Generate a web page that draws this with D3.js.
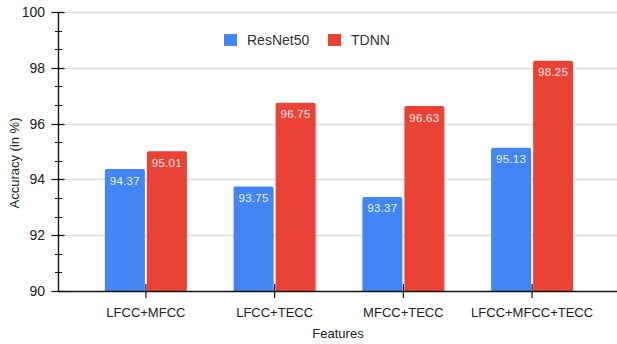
<!DOCTYPE html>
<html>
<head>
<meta charset="utf-8">
<script src="https://cdn.jsdelivr.net/npm/d3@7/dist/d3.min.js"></script>
<style>
  html, body { margin: 0; padding: 0; background: #fff; }
  svg { display: block; font-family: "Liberation Sans", Arial, sans-serif; }
</style>
</head>
<body>
<svg id="chart" width="617" height="344"></svg>
<script>
// Accuracy per feature combination, two model families
const categories = ["LFCC+MFCC", "LFCC+TECC", "MFCC+TECC", "LFCC+MFCC+TECC"];
const seriesNames = ["ResNet50", "TDNN"];
const resnet50 = [94.37, 93.75, 93.37, 95.13];
const tdnn = [95.01, 96.75, 96.63, 98.25];
const yTicks = [90, 92, 94, 96, 98, 100];
const colors = ["#4285F4", "#EA4335"];

const series = [resnet50, tdnn];

const svg = d3.select("#chart");
const plot = { left: 58.5, right: 617, top: 12, bottom: 291 };

const x = d3.scaleBand().domain(categories).range([81.5, 596.5]).padding(0);
const xSub = d3.scaleBand().domain(seriesNames).range([0, x.bandwidth()]).paddingInner(0.048).paddingOuter(0.556);
const y = d3.scaleLinear().domain([90, 100]).range([plot.bottom, plot.top]);

// gridlines
svg.append("g").selectAll("line").data(yTicks.slice(1)).join("line")
  .attr("x1", plot.left).attr("x2", plot.right)
  .attr("y1", d => Math.round(y(d)) + 0.5).attr("y2", d => Math.round(y(d)) + 0.5)
  .attr("stroke", "#dcdcdc").attr("stroke-width", 1.3);

// bars
const groups = svg.append("g").selectAll("g").data(categories).join("g")
  .attr("transform", d => `translate(${x(d)},0)`);

groups.each(function(cat, ci) {
  const g = d3.select(this);
  seriesNames.forEach((s, si) => {
    const v = series[si][ci];
    const bx = xSub(s), bw = xSub.bandwidth();
    const top = y(v);
    g.append("path")
      .attr("d", `M${bx},${y(90)} V${top + 2} Q${bx},${top} ${bx + 2},${top} H${bx + bw - 2} Q${bx + bw},${top} ${bx + bw},${top + 2} V${y(90)} Z`)
      .attr("fill", colors[si]);
    g.append("text")
      .attr("x", bx + bw / 2).attr("y", top + 15.5)
      .attr("text-anchor", "middle")
      .attr("font-size", 11.5)
      .attr("letter-spacing", 0.3)
      .attr("fill", "#fff")
      .attr("fill-opacity", 0.92)
      .text(v.toFixed(2));
  });
});

// y axis
const yAxis = svg.append("g");
yAxis.append("line")
  .attr("x1", plot.left).attr("x2", plot.left)
  .attr("y1", plot.top).attr("y2", plot.bottom)
  .attr("stroke", "#111").attr("stroke-width", 1.4);
yAxis.selectAll(".major").data(yTicks).join("line")
  .attr("x1", plot.left - 7).attr("x2", plot.left + 6)
  .attr("y1", d => Math.round(y(d)) + 0.5).attr("y2", d => Math.round(y(d)) + 0.5)
  .attr("stroke", "#111").attr("stroke-width", 1.2);
const minor = [];
for (let i = 0; i < yTicks.length - 1; i++) {
  const step = (yTicks[i + 1] - yTicks[i]) / 3;
  minor.push(yTicks[i] + step, yTicks[i] + 2 * step);
}
yAxis.selectAll(".minor").data(minor).join("line")
  .attr("x1", plot.left - 3.5).attr("x2", plot.left + 3.5)
  .attr("y1", d => Math.round(y(d)) + 0.5).attr("y2", d => Math.round(y(d)) + 0.5)
  .attr("stroke", "#111").attr("stroke-width", 1);
yAxis.selectAll("text").data(yTicks).join("text")
  .attr("x", 45).attr("y", d => y(d) + 5)
  .attr("text-anchor", "end")
  .attr("font-size", 14).attr("fill", "#222")
  .text(d => d);

// x axis
const xAxis = svg.append("g");
xAxis.append("line")
  .attr("x1", plot.left).attr("x2", plot.right)
  .attr("y1", plot.bottom + 0.5).attr("y2", plot.bottom + 0.5)
  .attr("stroke", "#111").attr("stroke-width", 1.3);
xAxis.selectAll(".tick").data(categories).join("line")
  .attr("x1", d => x(d) + x.bandwidth() / 2).attr("x2", d => x(d) + x.bandwidth() / 2)
  .attr("y1", plot.bottom - 7).attr("y2", plot.bottom + 7)
  .attr("stroke", "#111").attr("stroke-width", 1.2);
xAxis.selectAll("text").data(categories).join("text")
  .attr("x", d => x(d) + x.bandwidth() / 2).attr("y", 317)
  .attr("text-anchor", "middle")
  .attr("font-size", 13).attr("fill", "#222")
  .text(d => d);

// axis titles
svg.append("text")
  .attr("x", 338).attr("y", 338)
  .attr("text-anchor", "middle")
  .attr("font-size", 13).attr("fill", "#222")
  .text("Features");
svg.append("text")
  .attr("transform", "translate(19,163) rotate(-90)")
  .attr("text-anchor", "middle")
  .attr("font-size", 13).attr("fill", "#222")
  .text("Accuracy (in %)");

// legend
const legend = svg.append("g");
const legendItems = [{ name: seriesNames[0], x: 224 }, { name: seriesNames[1], x: 328 }];
legendItems.forEach((it, i) => {
  legend.append("rect")
    .attr("x", it.x).attr("y", 34).attr("width", 13).attr("height", 12)
    .attr("fill", colors[i]);
  legend.append("text")
    .attr("x", it.x + 23).attr("y", 45)
    .attr("font-size", 14).attr("fill", "#333")
    .text(it.name);
});
</script>
</body>
</html>
